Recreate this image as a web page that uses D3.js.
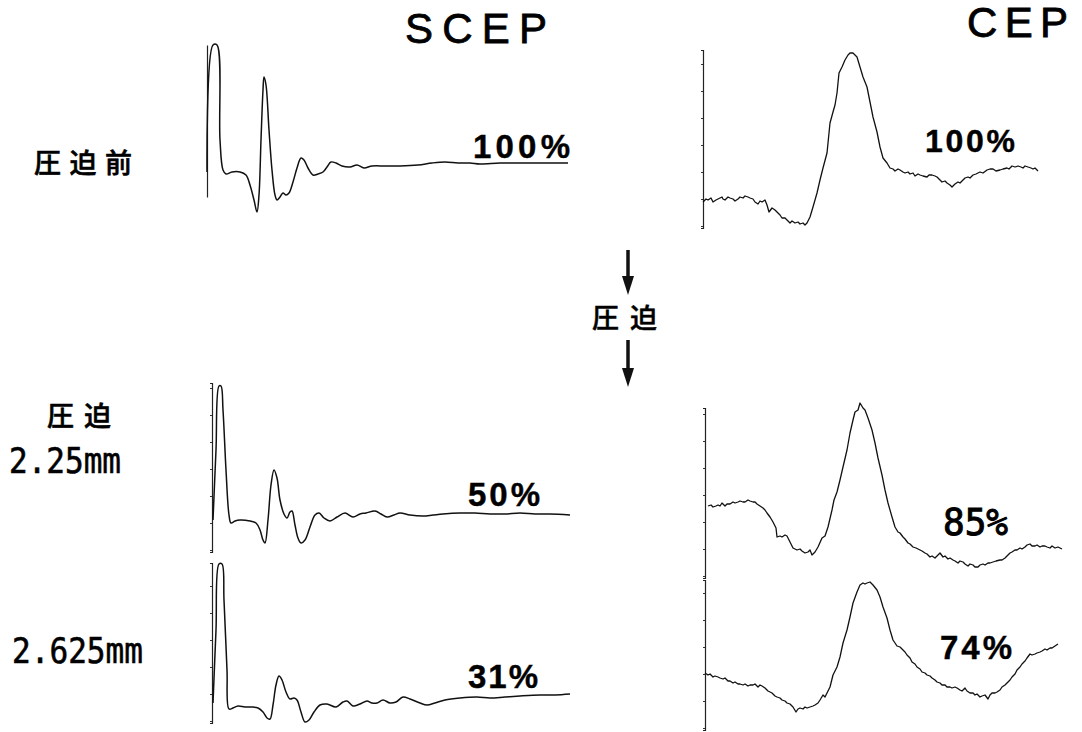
<!DOCTYPE html>
<html>
<head>
<meta charset="utf-8">
<script src="https://cdn.jsdelivr.net/npm/d3@7"></script>
<style>
  html, body { margin: 0; padding: 0; background: #fff; }
  svg { display: block; }
</style>
</head>
<body>
<div id="chart"></div>
<script>
/* SCEP / CEP waveforms before and during compression */

// traces: [time (ms), amplitude (arb. units)]
const scepPre = [
  [0,0],[0.6,12.7],[1.0,12.7],[1.3,3.2],[1.6,0.2],[1.9,-0.2],[2.5,0],[3.3,0],[3.9,-0.3],
  [4.3,-1.3],[4.7,-2.8],[5.0,-4.0],[5.2,-2.3],[5.4,3.2],[5.6,8.2],[5.7,9.5],[5.9,8.7],
  [6.2,4.2],[6.5,0.2],[6.8,-2.3],[7.0,-2.8],[7.3,-2.5],[7.6,-2.1],[7.9,-2.3],[8.2,-2.1],
  [8.6,-1.0],[9.0,0.4],[9.4,1.4],[9.7,1.2],[10.1,0.4],[10.6,-0.3],[11.1,-0.2],[11.6,0],
  [12.0,0.5],[12.4,1.0],[12.9,0.9],[13.5,0.6],[14.3,0.5],[15.0,0.7],[15.7,0.4],[16.5,0.6],
  [17.8,0.6],[19.3,0.6],[21.1,0.7],[22.5,0.9],[23.8,1.0],[25.1,0.9],[26.3,0.9],[27.3,0.8],
  [29.3,0.9],[31.3,0.9],[33.8,0.9],[36.1,0.9]
];
const scep225 = [
  [0.1,0.2],[0.4,7.2],[0.7,13.6],[0.9,13.6],[1.1,11.2],[1.4,5.2],[1.7,0.7],[1.9,-0.1],
  [2.3,0.1],[2.8,0.2],[3.8,0.1],[4.4,-0.1],[4.8,-0.8],[5.1,-1.8],[5.3,-2.1],[5.6,0.2],
  [5.9,3.7],[6.2,5.2],[6.5,4.4],[6.8,2.2],[7.2,0.8],[7.5,0.4],[7.8,1.0],[8.0,1.1],
  [8.3,-0.3],[8.6,-1.6],[8.9,-2.1],[9.3,-1.8],[9.8,-0.5],[10.3,0.7],[10.7,0.9],[11.2,0.4],
  [11.8,0.1],[12.5,0.5],[13.3,0.9],[14.1,0.5],[14.8,0.8],[15.4,0.9],[16.3,1.1],[16.9,0.8],
  [17.5,0.5],[18.2,0.7],[18.8,0.9],[19.8,0.7],[21.1,0.6],[22.1,0.7],[23.1,0.8],[24.8,0.9],
  [26.3,0.9],[27.8,0.8],[29.3,0.8],[30.8,0.9],[32.3,0.8],[33.8,0.8],[35.8,0.7]
];
const scep2625 = [
  [0.1,0.5],[0.4,7.8],[0.7,14.4],[1.0,14.4],[1.2,10.8],[1.5,3.8],[1.7,-0.1],[2.1,0],
  [2.6,0.2],[3.3,0.1],[4.0,0.1],[4.6,0],[5.1,-0.4],[5.5,-1.0],[5.8,-1.1],[6.1,0.3],
  [6.4,2.3],[6.7,3.2],[7.0,2.8],[7.4,1.6],[7.8,0.9],[8.2,1.0],[8.5,0.8],[8.9,-0.4],
  [9.3,-1.4],[9.7,-1.2],[10.2,-0.4],[10.8,0.3],[11.5,0.4],[12.4,0.1],[13.1,0.6],[13.5,0.7],
  [14.1,0.2],[14.8,0.4],[15.5,0.7],[16.0,0.5],[16.5,0.5],[17.1,0.8],[17.8,0.5],[18.4,0.6],
  [19.1,1.1],[19.8,0.9],[20.8,0.5],[21.5,0.3],[22.3,0.5],[23.3,0.8],[24.8,1.0],[26.5,1.1],
  [27.8,1.0],[29.3,1.1],[30.8,1.2],[32.8,1.3],[34.3,1.3],[35.8,1.4]
];
const cepPre = [
  [0.0,-0.2],[0.3,0.1],[0.5,0],[0.8,0.2],[1.0,-0.2],[1.3,0],[1.5,0.1],[1.9,0.3],[2.0,0.1],
  [2.2,0],[2.5,0.3],[2.7,0.2],[3.0,0.1],[3.2,-0.1],[3.5,0.1],[3.7,0.3],[4.0,0.2],[4.2,0.4],
  [4.5,0.3],[4.7,0.2],[5.0,0.1],[5.2,-0.2],[5.5,-0.4],[5.7,-0.1],[5.9,-0.2],[6.2,0],
  [6.4,-0.5],[6.6,-1.2],[6.9,-0.8],[7.2,-1.0],[7.5,-1.3],[7.7,-1.5],[7.9,-1.8],[8.2,-1.8],
  [8.4,-2.0],[8.7,-2.3],[8.9,-2.1],[9.2,-2.3],[9.5,-2.2],[9.7,-2.4],[10.0,-2.3],[10.2,-2.5],
  [10.4,-2.3],[10.7,-1.7],[11.0,-0.7],[11.4,0.7],[11.7,2.0],[12.0,3.2],[12.4,4.7],
  [12.7,7.7],[13.0,8.8],[13.2,9.5],[13.4,10.7],[13.6,12.7],[13.9,13.3],[14.2,14.0],[14.5,14.5],
  [14.7,14.7],[15.0,14.7],[15.4,14.3],[15.7,13.3],[16.0,12.3],[16.4,11.3],[16.7,9.8],[17.0,8.3],
  [17.4,6.8],[17.7,5.3],[18.0,4.2],[18.4,3.7],[18.7,3.2],[19.0,3.1],[19.2,2.9],[19.5,3.1],
  [19.7,3.0],[20.0,2.8],[20.2,2.7],[20.5,2.8],[20.7,2.6],[21.0,2.7],[21.2,2.4],[21.5,2.6],
  [21.7,2.5],[22.0,2.4],[22.4,2.3],[22.6,2.5],[22.9,2.5],[23.2,2.4],[23.4,2.3],[23.7,2.0],
  [23.9,1.8],[24.2,1.9],[24.4,1.7],[24.7,1.5],[24.9,1.3],[25.2,1.6],[25.5,1.8],[25.7,1.7],
  [26.0,2.0],[26.2,2.2],[26.5,2.3],[26.7,2.2],[27.0,2.5],[27.3,2.6],[27.7,2.8],[28.0,2.7],
  [28.4,3.0],[28.7,3.1],[29.0,3.1],[29.3,2.9],[29.7,3.0],[30.0,3.1],[30.4,3.2],[30.6,3.1],
  [30.9,3.4],[31.2,3.3],[31.5,3.4],[31.8,3.3],[32.0,3.2],[32.2,3.4],[32.5,3.3],[32.8,3.2],
  [33.0,3.1],[33.2,3.2],[33.5,2.9]
];
const cep225 = [
  [0.3,0],[0.6,0.1],[0.8,-0.1],[1.1,0],[1.3,0.1],[1.5,0],[1.7,0.3],[2.0,0],[2.2,0.2],[2.5,0.2],
  [2.8,0.4],[3.0,0.3],[3.3,0.4],[3.5,0.5],[3.8,0.4],[4.0,0.4],[4.3,0.6],[4.5,0.5],[4.8,0.4],
  [5.0,0.4],[5.2,0.2],[5.5,0],[5.8,-0.2],[6.0,-0.4],[6.2,-0.7],[6.5,-1.1],[6.8,-1.6],[7.1,-2.2],
  [7.2,-3.1],[7.5,-3.0],[7.7,-3.1],[8.0,-2.9],[8.2,-3.0],[8.5,-3.6],[8.8,-4.2],[9.0,-4.3],
  [9.2,-4.4],[9.5,-4.3],[9.7,-4.5],[10.0,-4.7],[10.3,-4.6],[10.5,-4.4],[10.7,-4.9],[11.0,-4.6],
  [11.3,-4.1],[11.7,-3.2],[12.0,-3.0],[12.3,-2.1],[12.7,-0.4],
  [12.9,0.6],[13.2,1.4],[13.5,2.6],[13.8,3.9],[14.2,5.6],[14.5,7.3],[14.8,8.6],[15.0,9.4],
  [15.3,9.6],[15.5,10.3],[15.8,9.8],[16.0,9.6],[16.3,8.8],[16.7,7.6],[17.0,6.3],[17.3,4.8],
  [17.7,3.1],[18.0,1.6],[18.3,0.3],[18.7,-1.1],[19.0,-2.1],[19.3,-2.6],[19.5,-2.7],[19.8,-3.1],
  [20.0,-3.3],[20.3,-3.7],[20.5,-3.8],[20.8,-4.1],[21.1,-4.2],[21.5,-4.4],[21.7,-4.5],[22.0,-4.7],
  [22.2,-4.8],[22.5,-5.1],[22.7,-5.0],[23.0,-5.2],[23.2,-5.0],[23.5,-4.7],[23.8,-5.1],[24.0,-5.0],
  [24.3,-5.3],[24.5,-5.2],[24.8,-5.4],[25.0,-5.5],[25.3,-5.7],[25.5,-5.5],[25.8,-5.6],[26.0,-5.8],
  [26.3,-6.0],[26.5,-5.8],[26.8,-5.9],[27.0,-6.1],[27.3,-6.1],[27.5,-5.9],[27.8,-5.8],[28.0,-5.9],
  [28.3,-5.7],[28.5,-5.7],[28.8,-5.6],[29.1,-5.5],[29.5,-5.4],[29.7,-5.4],[30.0,-5.2],[30.2,-5.0],
  [30.5,-4.7],[30.7,-4.6],[31.0,-4.4],[31.2,-4.4],[31.5,-4.2],[31.7,-4.3],[32.0,-4.1],[32.2,-3.9],
  [32.5,-3.8],[32.7,-4.0],[33.0,-4.0],[33.2,-3.9],[33.5,-4.1],[33.7,-4.0],[34.0,-4.0],[34.2,-4.1],
  [34.5,-4.2],[34.7,-4.0],[35.0,-4.2],[35.3,-4.1],[35.7,-4.3]
];
const cep2625 = [
  [0.0,0],[0.3,-0.2],[0.5,-0.1],[0.8,-0.4],[1.0,-0.3],[1.3,-0.4],[1.5,-0.5],[1.8,-0.6],[2.0,-0.5],
  [2.3,-0.8],[2.5,-0.8],[2.8,-1.0],[3.0,-0.9],[3.3,-1.1],[3.5,-1.1],[3.8,-1.2],[4.0,-1.1],
  [4.3,-1.3],[4.5,-1.2],[4.8,-1.2],[5.0,-1.1],[5.3,-1.4],[5.5,-1.2],[5.7,-1.3],[6.0,-1.5],
  [6.3,-1.8],[6.7,-2.0],[7.0,-2.3],
  [7.2,-2.4],[7.5,-2.5],[7.7,-2.7],[8.0,-2.8],[8.2,-3.0],[8.5,-3.1],[8.8,-3.4],[9.1,-3.9],
  [9.3,-3.6],[9.5,-3.5],[9.8,-3.6],[10.0,-3.4],[10.2,-3.5],[10.5,-3.4],[10.8,-3.3],[11.0,-3.2],
  [11.3,-3.0],[11.5,-2.7],[11.8,-2.2],[12.0,-2.4],[12.2,-2.0],[12.5,-1.4],[12.8,-0.2],[13.2,0.6],
  [13.5,1.6],[13.8,3.0],[14.2,4.3],[14.5,5.6],[14.8,7.0],[15.2,8.1],[15.5,8.8],[15.8,9.0],
  [16.0,8.9],[16.2,9.0],[16.5,9.1],[16.8,8.8],[17.2,8.3],[17.5,7.6],[17.8,6.6],[18.2,5.5],[18.5,4.3],
  [18.8,3.3],[19.2,2.7],[19.5,2.6],[19.7,2.4],[20.0,2.1],[20.2,1.8],[20.5,1.5],[20.7,1.1],
  [21.0,0.9],[21.2,0.6],[21.5,0.4],[21.7,0.1],[22.0,0],[22.2,-0.2],[22.5,-0.3],[22.7,-0.5],
  [23.0,-0.7],[23.2,-0.9],[23.5,-1.0],[23.7,-1.2],[24.0,-1.2],[24.2,-1.4],[24.5,-1.4],[24.7,-1.5],
  [25.0,-1.4],[25.2,-1.5],[25.5,-1.7],[25.7,-1.8],[26.0,-1.5],[26.2,-1.8],[26.5,-2.0],[26.8,-2.0],
  [27.0,-2.2],[27.2,-2.1],[27.5,-2.4],[27.7,-2.3],[28.0,-2.2],[28.3,-2.6],[28.5,-2.2],[28.7,-2.0],
  [29.0,-2.0],[29.2,-1.9],[29.5,-1.7],[29.7,-1.4],[30.0,-1.2],[30.2,-1.0],[30.5,-0.7],[30.7,-0.4],
  [31.0,-0.1],[31.2,0.3],[31.5,0.6],[31.7,0.9],[32.0,1.2],[32.2,1.5],[32.5,1.9],[32.7,1.8],
  [33.0,1.9],[33.2,2.0],[33.5,2.1],[33.7,2.2],[34.0,2.4],[34.2,2.3],[34.5,2.5],[34.7,2.5],
  [35.0,2.7],[35.3,2.9]
];

// amplitude span of each calibration bar
const ampSpan = [[-2.5, 12.7], [-3.0, 13.9], [-1.5, 14.5], [-2.8, 15.0], [-7.2, 9.8], [-5.7, 9.3]];
const timeSpan = [0, 36];
const calStep = 2.7;

const columnTitles = ['SCEP', 'CEP'];
const rowLabels = ['圧迫前', '圧迫', '2.25mm', '2.625mm'];
const ratioLabels = ['100%', '50%', '31%', '100%', '85%', '74%'];
const arrowLabel = '圧迫';

const width = 1082, height = 732;
const sans = '"Liberation Sans", Arial, sans-serif';
const mono = '"DejaVu Sans Mono", monospace';
const cjk = '"Noto Sans CJK JP", sans-serif';

const svg = d3.select('#chart').append('svg')
  .attr('width', width).attr('height', height);

// panel boxes (left = calibration bar, top / bottom = its ends)
const panels = [
  { trace: scepPre, left: 207, top: 45, bottom: 197, ticks: false, smooth: true },
  { trace: scep225, left: 212, top: 383, bottom: 552, ticks: true, smooth: true },
  { trace: scep2625, left: 212, top: 563, bottom: 723, ticks: true, smooth: true },
  { trace: cepPre, left: 703, top: 50, bottom: 228, ticks: true, smooth: false },
  { trace: cep225, left: 705, top: 408, bottom: 578, ticks: true, smooth: false },
  { trace: cep2625, left: 705, top: 580, bottom: 730, ticks: true, smooth: false }
];

panels.forEach((p, i) => {
  const x = d3.scaleLinear().domain(timeSpan).range([p.left, p.left + 360]);
  const y = d3.scaleLinear().domain(ampSpan[i]).range([p.bottom, p.top]);

  const axis = d3.axisLeft(y)
    .tickSizeOuter(0)
    .tickSize(p.ticks ? 2 : 0)
    .tickFormat('')
    .tickValues(p.ticks ? d3.range(ampSpan[i][0] + 0.2, ampSpan[i][1], calStep) : []);

  const g = svg.append('g')
    .attr('transform', 'translate(' + p.left + ',0)')
    .call(axis);
  g.select('.domain').attr('stroke', '#222').attr('stroke-width', 1.2);
  g.selectAll('.tick line').attr('stroke', '#333').attr('stroke-width', 1.2);

  const line = d3.line()
    .x(d => x(d[0]))
    .y(d => y(d[1]))
    .curve(p.smooth ? d3.curveCatmullRom.alpha(0.5) : d3.curveLinear);

  svg.append('path')
    .datum(p.trace)
    .attr('d', line)
    .attr('fill', 'none')
    .attr('stroke', '#111')
    .attr('stroke-width', p.smooth ? 1.5 : 1.3)
    .attr('stroke-linejoin', 'round');
});

// column titles
const titlePos = [{ x: 405, y: 43, w: 142 }, { x: 967, y: 37, w: 101 }];
columnTitles.forEach((t, i) => {
  svg.append('text')
    .attr('x', titlePos[i].x).attr('y', titlePos[i].y)
    .attr('textLength', titlePos[i].w)
    .attr('lengthAdjust', 'spacing')
    .attr('stroke', '#000').attr('stroke-width', 0.8)
    .style('font-family', sans).style('font-size', '42px')
    .text(t);
});

// percent labels
const ratioPos = [
  { x: 473, y: 158, w: 97, font: sans, size: 33, weight: 'bold', stroke: 0.4 },
  { x: 468, y: 506, w: 72, font: sans, size: 33, weight: 'bold', stroke: 0.4 },
  { x: 468, y: 688, w: 70, font: sans, size: 33, weight: 'bold', stroke: 0.4 },
  { x: 925, y: 152, w: 90, font: sans, size: 32, weight: 'bold', stroke: 0.4 },
  { x: 943, y: 535, w: 65, font: mono, size: 37, weight: 'normal', stroke: 1.0 },
  { x: 940, y: 659, w: 72, font: sans, size: 33, weight: 'bold', stroke: 0.4 }
];
ratioLabels.forEach((t, i) => {
  const p = ratioPos[i];
  svg.append('text')
    .attr('x', p.x).attr('y', p.y)
    .attr('textLength', p.w)
    .attr('lengthAdjust', p.font === mono ? 'spacingAndGlyphs' : 'spacing')
    .attr('stroke', '#000').attr('stroke-width', p.stroke)
    .style('font-family', p.font).style('font-size', p.size + 'px')
    .style('font-weight', p.weight)
    .text(t);
});

// row labels on the left
const rowPos = [
  { x: 34, y: 173, w: 98, font: cjk, size: 27 },
  { x: 47, y: 426, w: 64, font: cjk, size: 27 },
  { x: 9, y: 473, w: 112, font: mono, size: 35 },
  { x: 12, y: 663, w: 131, font: mono, size: 35 }
];
rowLabels.forEach((t, i) => {
  const p = rowPos[i];
  svg.append('text')
    .attr('x', p.x).attr('y', p.y)
    .attr('textLength', p.w)
    .attr('lengthAdjust', p.font === mono ? 'spacingAndGlyphs' : 'spacing')
    .attr('stroke', '#000').attr('stroke-width', 0.6)
    .style('font-family', p.font).style('font-size', p.size + 'px')
    .style('font-weight', p.font === cjk ? 500 : 'normal')
    .text(t);
});

// compression arrows in the middle
const arrows = [{ x: 628, y0: 250, y1: 295 }, { x: 628, y0: 340, y1: 387 }];
arrows.forEach(a => {
  svg.append('line')
    .attr('x1', a.x).attr('x2', a.x)
    .attr('y1', a.y0).attr('y2', a.y1 - 16)
    .attr('stroke', '#111').attr('stroke-width', 3.5);
  svg.append('path')
    .attr('d', 'M' + (a.x - 6) + ',' + (a.y1 - 19) + 'L' + (a.x + 6) + ',' + (a.y1 - 19) + 'L' + a.x + ',' + a.y1 + 'Z')
    .attr('fill', '#111');
});
svg.append('text')
  .attr('x', 592).attr('y', 328)
  .attr('textLength', 65).attr('lengthAdjust', 'spacing')
  .attr('stroke', '#000').attr('stroke-width', 0.5)
  .style('font-family', cjk).style('font-size', '27px').style('font-weight', 500)
  .text(arrowLabel);
</script>
</body>
</html>
